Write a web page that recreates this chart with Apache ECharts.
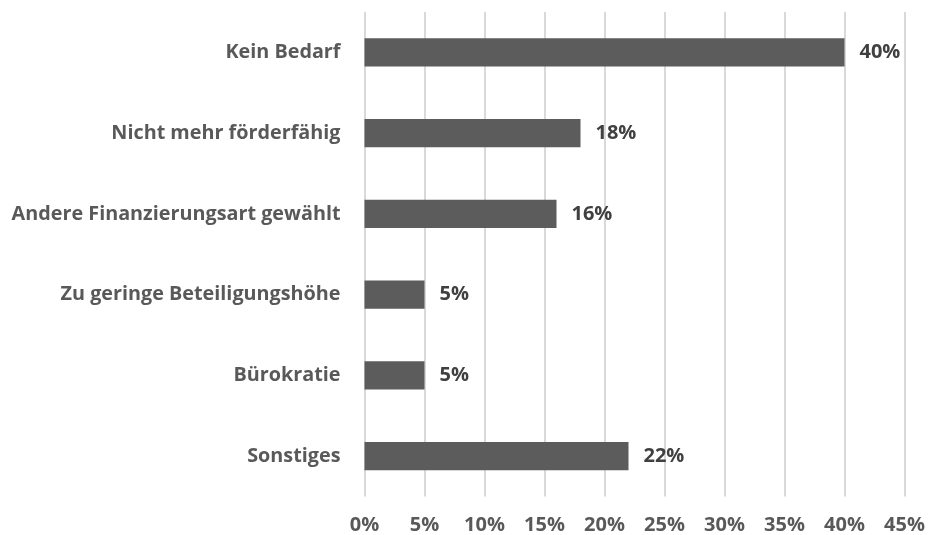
<!DOCTYPE html>
<html><head><meta charset="utf-8">
<script src="https://cdn.jsdelivr.net/npm/echarts@6/dist/echarts.min.js"></script>
<style>html,body{margin:0;padding:0;background:#fff}#c{width:928px;height:535px}</style>
</head><body><div id="c"></div>
<script>
const categories = ["Kein Bedarf","Nicht mehr förderfähig","Andere Finanzierungsart gewählt","Zu geringe Beteiligungshöhe","Bürokratie","Sonstiges"];
const values = [40,18,16,5,5,22];
const xTicks = [0,5,10,15,20,25,30,35,40,45];

const font = 'Open Sans';
const chart = echarts.init(document.getElementById('c'), null, {renderer:'canvas'});
chart.setOption({
  animation:false,
  grid:{left:364.5, right:23.5, top:12, bottom:37.5, containLabel:false},
  xAxis:{type:'value', min:xTicks[0], max:xTicks[xTicks.length-1], interval:5,
    axisLine:{show:false}, axisTick:{show:false},
    splitLine:{show:true, lineStyle:{color:'#d9d9d9', width:2}},
    axisLabel:{formatter:'{value}%', color:'#595959', fontFamily:font, fontWeight:'bold', fontSize:20, margin:18.5}},
  yAxis:{type:'category', inverse:true, data:categories,
    axisLine:{show:false}, axisTick:{show:false},
    axisLabel:{color:'#595959', fontFamily:font, fontWeight:'bold', fontSize:19.8, margin:24}},
  series:[{type:'bar', data:values, barWidth:'35%',
    itemStyle:{color:'#5c5c5c'},
    label:{show:true, position:'right', distance:15, formatter:'{c}%', color:'#404040', fontFamily:font, fontWeight:'bold', fontSize:20}}]
});
</script></body></html>
